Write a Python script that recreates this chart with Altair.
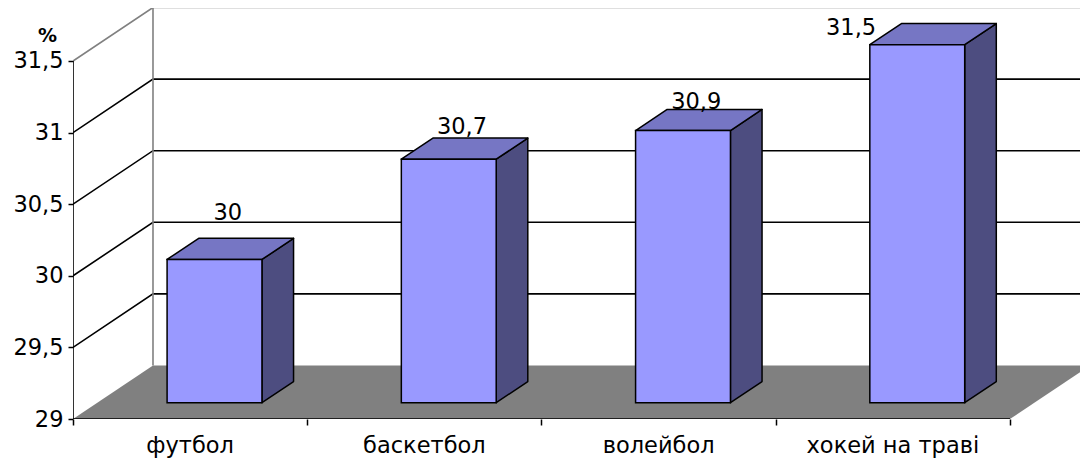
import altair as alt
import pandas as pd

# ---- data -----------------------------------------------------------------
categories = ["футбол", "баскетбол", "волейбол", "хокей на траві"]
values = [30, 30.7, 30.9, 31.5]
y_ticks = [29, 29.5, 30, 30.5, 31, 31.5]

# ---- 3D box geometry (oblique projection in data units) -------------------
Y_MIN, Y_TOP = 29, 31.5
DEPTH_X = 0.3415      # horizontal shift of the full depth, in category units
DEPTH_Y = 0.3736      # vertical shift of the full depth, in value units
BAR_W = 0.405         # bar width, in category units
Z0, Z1 = 0.305, 0.70  # front / back depth of the bars (0 = front, 1 = back wall)

X_DOMAIN = [0, 4.2989]
Y_DOMAIN = [29, 31.87]

FRONT = "#9999FF"
TOP = "#7676C4"
SIDE = "#4D4D80"
FLOOR = "#808080"
FONT = "DejaVu Sans"
FONT_SIZE = 22.5

n = len(categories)
xs = alt.Scale(domain=X_DOMAIN, nice=False, zero=False)
ys = alt.Scale(domain=Y_DOMAIN, nice=False, zero=False)

x_axis = alt.Axis(values=list(range(n + 1)), labels=False, tickSize=6,
                  tickColor="black", tickWidth=1.5, domain=False, grid=False,
                  title="")
y_axis = alt.Axis(values=y_ticks, tickSize=5, tickColor="black", tickWidth=1.5,
                  domain=False, grid=False, format=".1~f",
                  labelExpr="replace(datum.label, '.', ',')",
                  labelFont=FONT, labelFontSize=FONT_SIZE, labelColor="black",
                  labelPadding=5,
                  title="%", titleAngle=0, titleFont=FONT, titleFontSize=19,
                  titleFontWeight="bold", titleColor="black",
                  titleAlign="center", titleBaseline="alphabetic",
                  titleX=-26, titleY=33)


def X(field):
    return alt.X(field, type="quantitative", scale=xs, axis=x_axis)


def Y(field):
    return alt.Y(field, type="quantitative", scale=ys, axis=y_axis)


# ---- floor ----------------------------------------------------------------
floor_df = pd.DataFrame({
    "y": [Y_MIN, Y_MIN + DEPTH_Y],
    "x": [0, DEPTH_X],
    "x2": [n, n + DEPTH_X],
})
floor = alt.Chart(floor_df).mark_area(
    orient="horizontal", color=FLOOR, clip=True
).encode(y=Y("y"), x=X("x"), x2="x2")

# ---- walls: gridlines on the side and back walls, plus the front axes -----
rows = []
for v in y_ticks[1:]:
    col = FLOOR if v == Y_TOP else "black"
    pts = [(0, v), (DEPTH_X, v + DEPTH_Y), (n + DEPTH_X, v + DEPTH_Y)]
    for k, (px, py) in enumerate(pts):
        rows.append({"id": f"g{v}", "o": k, "x": px, "y": py, "c": col})
for k, (px, py) in enumerate([(DEPTH_X, Y_MIN + DEPTH_Y), (DEPTH_X, Y_TOP + DEPTH_Y)]):
    rows.append({"id": "back", "o": k, "x": px, "y": py, "c": FLOOR})
for k, (px, py) in enumerate([(0, Y_TOP), (0, Y_MIN), (n, Y_MIN)]):
    rows.append({"id": "axes", "o": k, "x": px, "y": py, "c": "black"})
lines_df = pd.DataFrame(rows)

lines = alt.Chart(lines_df).mark_line(strokeWidth=1.6, clip=True).encode(
    x=X("x"), y=Y("y"), detail="id:N", order="o:Q",
    color=alt.Color("c:N", scale=None),
)

# ---- bars -----------------------------------------------------------------
ddx = (Z1 - Z0) * DEPTH_X
ddy = (Z1 - Z0) * DEPTH_Y
front_rows, top_rows, side_rows, label_rows = [], [], [], []
for i, (cat, v) in enumerate(zip(categories, values)):
    xl = i + 0.5 - BAR_W / 2 + Z0 * DEPTH_X
    xr = xl + BAR_W
    yb = Y_MIN + Z0 * DEPTH_Y
    yt = v + Z0 * DEPTH_Y
    front_rows.append({"x": xl, "x2": xr, "y": yb, "y2": yt})
    top_rows += [
        {"b": cat, "y": yt, "x": xl, "x2": xr},
        {"b": cat, "y": yt + ddy, "x": xl + ddx, "x2": xr + ddx},
    ]
    side_rows += [
        {"b": cat, "x": xr, "y": yb, "y2": yt},
        {"b": cat, "x": xr + ddx, "y": yb + ddy, "y2": yt + ddy},
    ]
    # value labels float above the top face; a bar that reaches the top
    # gridline gets its label on the left instead
    lx = (xl + xr) / 2 + ddx * 0.42
    if v >= Y_TOP:
        lx = xl - 0.08
    ly = v + 0.39 - 0.14 * (v - values[0])
    label_rows.append({"x": lx, "y": ly,
                       "t": f"{v:g}".replace(".", ",")})

front = alt.Chart(pd.DataFrame(front_rows)).mark_rect(
    color=FRONT, stroke="black", strokeWidth=1.5
).encode(x=X("x"), x2="x2", y=Y("y"), y2="y2")

top = alt.Chart(pd.DataFrame(top_rows)).mark_area(
    orient="horizontal", color=TOP, stroke="black", strokeWidth=1.5,
    strokeJoin="round"
).encode(y=Y("y"), x=X("x"), x2="x2", detail="b:N")

side = alt.Chart(pd.DataFrame(side_rows)).mark_area(
    orient="vertical", color=SIDE, stroke="black", strokeWidth=1.5,
    strokeJoin="round"
).encode(x=X("x"), y=Y("y"), y2="y2", detail="b:N")

value_labels = alt.Chart(pd.DataFrame(label_rows)).mark_text(
    font=FONT, fontSize=FONT_SIZE, color="black", baseline="alphabetic",
    align="center"
).encode(x=X("x"), y=Y("y"), text="t:N")

# ---- category labels under the front axis ---------------------------------
cat_df = pd.DataFrame({"x": [i + 0.5 for i in range(n)],
                       "y": [Y_MIN] * n, "t": categories})
cat_labels = alt.Chart(cat_df).mark_text(
    font=FONT, fontSize=FONT_SIZE, color="black", baseline="alphabetic",
    align="center", dy=34
).encode(x=X("x"), y=Y("y"), text="t:N")

chart = alt.layer(
    floor, lines, side, top, front, value_labels, cat_labels
).properties(
    width=1007, height=411,
    padding={"left": 73, "top": 8, "right": 0, "bottom": 45},
    autosize=alt.AutoSizeParams(type="none"),
    background="white",
).configure_view(stroke=None)

chart.save("out.html", embed_options={"renderer": "svg", "actions": False})
